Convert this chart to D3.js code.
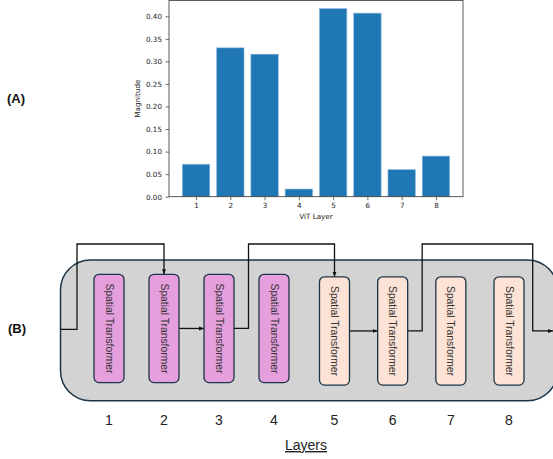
<!DOCTYPE html>
<html>
<head>
<meta charset="utf-8">
<script src="https://cdn.jsdelivr.net/npm/d3@7"></script>
<style>
  html, body { margin: 0; padding: 0; background: #fff; }
  svg { display: block; }
</style>
</head>
<body>
<svg id="fig" width="553" height="459"></svg>
<script>
// ---------- data ----------
const layers = [1, 2, 3, 4, 5, 6, 7, 8];
const magnitudes = [0.072, 0.330, 0.316, 0.017, 0.417, 0.407, 0.060, 0.090];
const yTicks = [0.00, 0.05, 0.10, 0.15, 0.20, 0.25, 0.30, 0.35, 0.40];
const xLabelA = "ViT Layer";
const yLabelA = "Magnitude";
const blockLabel = "Spatial Transformer";
const blockGroup = ["a", "a", "a", "a", "b", "b", "b", "b"];
const seqLinks = [[2, 3], [5, 6]];           // direct arrows
const skipLinks = [["in", 2], [3, 5], [6, "out"]]; // over-the-top connections
const xLabelB = "Layers";

// ---------- panel A ----------
const svg = d3.select("#fig");
const plot = { left: 169, right: 463, top: 0.5, bottom: 196.7 };
const x = d3.scaleLinear().domain([0.21, 8.79]).range([plot.left, plot.right]);
const y = d3.scaleLinear().domain([0, 0.435]).range([plot.bottom, plot.top]);
const barW = 0.8;

const gA = svg.append("g").attr("font-family", "DejaVu Sans, sans-serif");

gA.selectAll("rect.bar").data(layers).join("rect")
  .attr("class", "bar")
  .attr("x", d => x(d - barW / 2))
  .attr("width", d => x(d + barW / 2) - x(d - barW / 2))
  .attr("y", (d, i) => y(magnitudes[i]))
  .attr("height", (d, i) => y(0) - y(magnitudes[i]))
  .attr("fill", "#1f77b4")
  .attr("stroke", "#8fb8dc").attr("stroke-width", 0.6);

const yAxis = d3.axisLeft(y).tickValues(yTicks).tickFormat(d3.format(".2f")).tickSize(3.5).tickPadding(3.5);
const xAxis = d3.axisBottom(x).tickValues(layers).tickFormat(d3.format("d")).tickSize(3.5).tickPadding(2.5);

const ya = gA.append("g").attr("transform", `translate(${plot.left},0)`).call(yAxis);
const xa = gA.append("g").attr("transform", `translate(0,${plot.bottom})`).call(xAxis);
[ya, xa].forEach(a => {
  a.select(".domain").remove();
  a.selectAll("text").attr("font-size", 7.2).attr("fill", "#222").attr("font-family", "DejaVu Sans, sans-serif");
  a.selectAll("line").attr("stroke", "#333").attr("stroke-width", 0.7);
});
// spines
gA.append("rect")
  .attr("x", plot.left).attr("y", plot.top)
  .attr("width", plot.right - plot.left).attr("height", plot.bottom - plot.top)
  .attr("fill", "none").attr("stroke", "#333").attr("stroke-width", 0.8);

gA.append("text").text(xLabelA)
  .attr("x", (plot.left + plot.right) / 2).attr("y", 219)
  .attr("text-anchor", "middle").attr("font-size", 7.2).attr("fill", "#222");
gA.append("text").text(yLabelA)
  .attr("transform", `translate(140,${(plot.top + plot.bottom) / 2}) rotate(-90)`)
  .attr("text-anchor", "middle").attr("font-size", 7.2).attr("fill", "#222");

// panel letters
svg.append("text").text("(A)").attr("x", 7).attr("y", 103)
  .attr("font-family", "Liberation Sans, Arial, sans-serif").attr("font-weight", "bold").attr("font-size", 13).attr("fill", "#111");
svg.append("text").text("(B)").attr("x", 8).attr("y", 333)
  .attr("font-family", "Liberation Sans, Arial, sans-serif").attr("font-weight", "bold").attr("font-size", 13).attr("fill", "#111");

// ---------- panel B ----------
const gB = svg.append("g").attr("font-family", "Liberation Sans, Arial, sans-serif");
const bx = d3.scaleLinear().domain([1, 4, 5, 8]).range([109, 274, 334.5, 509]);
const boxW = 30;
const boxTop = { a: 274.3, b: 276.8 };
const boxH = 108.3;
const fills = { a: "#e59fdd", b: "#fde3d5" };
const midY = g => boxTop[g] + boxH / 2;

// outer container
gB.append("rect")
  .attr("x", 60.5).attr("y", 260).attr("width", 497).attr("height", 140.7)
  .attr("rx", 30).attr("ry", 30)
  .attr("fill", "#d3d3d3").attr("stroke", "#1b3447").attr("stroke-width", 1.5);

// arrow marker
svg.append("defs").append("marker")
  .attr("id", "ah").attr("viewBox", "0 0 10 10").attr("refX", 10).attr("refY", 5)
  .attr("markerWidth", 5).attr("markerHeight", 5).attr("markerUnits", "userSpaceOnUse")
  .attr("orient", "auto")
  .append("path").attr("d", "M0,1 L10,5 L0,9 Z").attr("fill", "#111");

const lineStyle = sel => sel.attr("fill", "none").attr("stroke", "#111").attr("stroke-width", 1.3);

// skip connections
const topY = 244;
skipLinks.forEach(([s, t]) => {
  let sx, sy, turnX;
  if (s === "in") { sx = 60.5; sy = 329.3; turnX = 77; }
  else { sx = bx(s) + boxW / 2; sy = midY(blockGroup[s - 1]); turnX = sx + 14.5; }
  let path;
  if (t === "out") {
    const dx = 532.7;
    path = d3.path();
    path.moveTo(sx, sy); path.lineTo(turnX, sy); path.lineTo(turnX, topY);
    path.lineTo(dx, topY); path.lineTo(dx, sy); path.lineTo(553, sy);
  } else {
    const tx = bx(t), ty = boxTop[blockGroup[t - 1]];
    path = d3.path();
    path.moveTo(sx, sy); path.lineTo(turnX, sy); path.lineTo(turnX, topY);
    path.lineTo(tx, topY); path.lineTo(tx, ty);
  }
  gB.append("path").attr("d", path.toString()).call(lineStyle).attr("marker-end", "url(#ah)");
});

// sequential arrows
seqLinks.forEach(([s, t]) => {
  const yy = midY(blockGroup[s - 1]);
  gB.append("line")
    .attr("x1", bx(s) + boxW / 2).attr("y1", yy)
    .attr("x2", bx(t) - boxW / 2).attr("y2", yy)
    .call(lineStyle).attr("marker-end", "url(#ah)");
});

// blocks
const blocks = gB.selectAll("g.block").data(layers).join("g").attr("class", "block");
blocks.append("rect")
  .attr("x", d => bx(d) - boxW / 2).attr("y", (d, i) => boxTop[blockGroup[i]])
  .attr("width", boxW).attr("height", boxH).attr("rx", 5).attr("ry", 5)
  .attr("fill", (d, i) => fills[blockGroup[i]])
  .attr("stroke", "#1b3447").attr("stroke-width", 1.3);
blocks.append("text").text(blockLabel)
  .attr("transform", (d, i) => `translate(${bx(d)},${midY(blockGroup[i])}) rotate(90)`)
  .attr("text-anchor", "middle").attr("dominant-baseline", "central")
  .attr("font-size", 10.3).attr("fill", "#333");

// layer numbers
gB.selectAll("text.num").data(layers).join("text")
  .attr("class", "num").text(d => d)
  .attr("x", d => bx(d)).attr("y", 425)
  .attr("text-anchor", "middle").attr("font-size", 14).attr("fill", "#222");

gB.append("text").text(xLabelB)
  .attr("x", 306).attr("y", 450)
  .attr("text-anchor", "middle").attr("font-size", 14).attr("fill", "#222")
  .attr("text-decoration", "underline");
</script>
</body>
</html>
